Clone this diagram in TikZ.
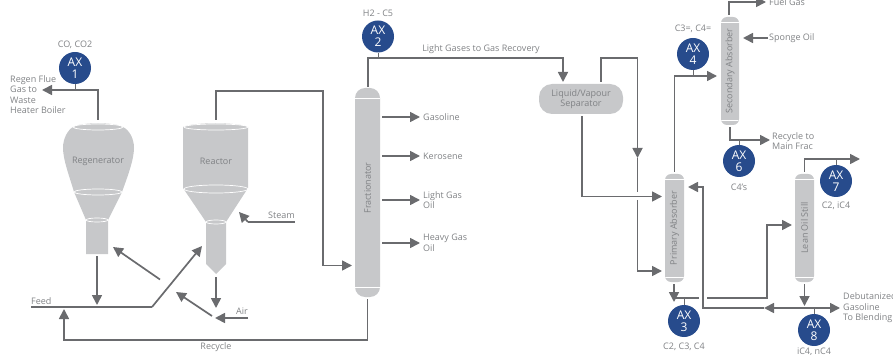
\documentclass[tikz,border=0pt]{standalone}
\usepackage{fontspec}
\setmainfont{Open Sans}
\usetikzlibrary{positioning,arrows.meta}
\definecolor{pipegray}{HTML}{6A6B6E}
\definecolor{vesselgray}{HTML}{C7C8CA}
\definecolor{textgray}{HTML}{808285}
\definecolor{axblue}{HTML}{274B8C}

\begin{document}
\begin{tikzpicture}[x=1pt, y=-1pt, font=\fontsize{9}{10.5}\selectfont, text=textgray,
		c/.style={circle, fill=axblue, text=white, minimum size=32pt, inner sep=0pt, align=center, font=\fontsize{12}{12}\selectfont},
		p/.style={draw=pipegray, line width=1.7pt},
		a/.style={p, -{Triangle[length=10pt, width=10pt]}},
		t/.style={draw=pipegray, line width=1pt},
		l/.style={anchor=west, inner sep=0pt, align=left},
		ring/.style={draw=white, line width=.7pt},
		v/.style={fill=vesselgray},
		col/.style={v, inner sep=0pt, path picture={
			\draw[ring] ([yshift=-#1]path picture bounding box.north west) -- ([yshift=-#1]path picture bounding box.north east);
			\draw[ring] ([yshift=#1]path picture bounding box.south west) -- ([yshift=#1]path picture bounding box.south east);}},
		n/.style={rotate=90, inner sep=0pt}]
		\useasboundingbox (0,0) rectangle (893,355);

		\fill[v] (73,127) .. controls (68,130) and (63,138) .. (63,148) .. controls (63,160) and (70,178) .. (74,192) -- (86,220) -- (86,254) -- (108,254) -- (108,220) -- (122,192) .. controls (127,178) and (134,160) .. (134,148) .. controls (134,138) and (129,130) .. (123,127) .. controls (115,122) and (81,122) .. (73,127) -- cycle;
		\draw[ring] (98,127) ellipse (25 and 3);
		\draw[ring] (98,192) ellipse (24 and 3);
		\draw[ring] (97,220) ellipse (11 and 2);
		\node (Regenerator) at (98,161) {Regenerator};

		\fill[v] (183,127) -- (183,188) -- (206,222) -- (206,264) -- (216,274) -- (226,264) -- (226,222) -- (248,188) -- (248,127) .. controls (238,122) and (193,122) .. (183,127) -- cycle;
		\draw[ring] (216,127) ellipse (32 and 3);
		\draw[ring] (216,189) ellipse (32 and 4);
		\draw[ring] (216,222) ellipse (10 and 2);
		\node (Reactor) at (216,161) {Reactor};

		\node[col=10pt, rounded corners=10pt, minimum width=25pt, minimum height=209pt] (Frac) at (367.5,192.5) {};
		\node[n] (Frac_label) at (367.5,188) {Fractionator};
		\node[col=5pt, rounded corners=6pt, minimum width=19pt, minimum height=108pt] (Primary) at (674.5,228) {};
		\node[n] (Primary_label) at (Primary) {Primary Absorber};
		\node[col=5pt, rounded corners=6pt, minimum width=18pt, minimum height=108pt] (Secondary) at (730,71) {};
		\node[n] (Secondary_label) at (Secondary) {Secondary Absorber};
		\node[col=5pt, rounded corners=6pt, minimum width=19pt, minimum height=108pt] (Lean) at (804.5,228) {};
		\node[n] (Lean_label) at (Lean) {Lean Oil Still};
		\node[v, rounded corners=13pt, minimum width=84pt, minimum height=30pt, inner sep=0pt, align=center] (Separator) at (581,99) {Liquid/Vapour\\Separator};

		\node[c] (AX_1) at (75,68) {AX\\1};
		\node[above=0pt of AX_1] (AX_1_label) {CO, CO2};
		\node[c] (AX_2) at (378,36.5) {AX\\2};
		\node[above=0pt of AX_2] (AX_2_label) {H2 - C5};
		\node[c] (AX_3) at (684,321) {AX\\3};
		\node[below=2pt of AX_3] (AX_3_label) {C2, C3, C4};
		\node[c] (AX_4) at (693,54) {AX\\4};
		\node[above=2pt of AX_4] (AX_4_label) {C3=, C4=};
		\node[c] (AX_6) at (739,161) {AX\\6};
		\node[below=3pt of AX_6] (AX_6_label) {C4's};
		\node[c] (AX_7) at (836,181) {AX\\7};
		\node[below=1pt of AX_7] (AX_7_label) {C2, iC4};
		\node[c] (AX_8) at (814,330) {AX\\8};
		\node[below=0pt of AX_8, inner ysep=1pt] (AX_8_label) {iC4, nC4};

		\node[l] (Flue) at (10,94.5) {Regen Flue\\Gas to\\Waste\\Heater Boiler};
		\node[l] (Feed) at (31,301) {Feed};
		\node[l] (Air) at (236,311) {Air};
		\node[l] (Steam) at (268,215) {Steam};
		\node (Recycle) at (216,347) {Recycle};
		\node (Recovery) at (481,49) {Light Gases to Gas Recovery};
		\node[l] (Gasoline) at (423,117) {Gasoline};
		\node[l] (Kerosene) at (423,156) {Kerosene};
		\node[l] (Light_oil) at (423,200) {Light Gas\\Oil};
		\node[l] (Heavy_oil) at (423,243) {Heavy Gas\\Oil};
		\node[l] (Fuel) at (769,2) {Fuel Gas};
		\node[l] (Sponge) at (769,38) {Sponge Oil};
		\node[l] (Main_frac) at (772,141) {Recycle to\\Main Frac};
		\node[l] (Blending) at (843,308) {Debutanized\\Gasoline\\To Blending};

		\draw[a] (98,120) |- (42,90) coordinate (Flue_end);
		\draw[t] (AX_1) -- (AX_1 |- Flue_end);
		\coordinate (Regen_out) at (97,256);
		\draw[a] (Regen_out) -- (97,305);
		\draw[a] (216,277) -- (216,308);
		\coordinate (Feed_bend) at (152,307);
		\draw[p] (Feed.west |- Feed_bend) -- (Feed_bend);
		\draw[a] (Feed_bend) -- (202,246);
		\draw[a] (160,279.5) -- (113,247);
		\draw[a] (212,316) -- (176,292);
		\coordinate (Air_tip) at (215,318);
		\draw[a] (Air.east |- Air_tip) -- (Air_tip);
		\coordinate (Steam_bend) at (248,222);
		\draw[p] (Steam.east |- Steam_bend) -- (Steam_bend);
		\draw[a] (Steam_bend) -- (239,212);
		\draw[a] (216,120) |- (323,91) |- (352,265.5);
		\draw[a] (367.5,299) |- (64,340) -- (64,309);

		\draw[a] (Frac.east |- Gasoline) ++(2,0) -- ([xshift=-3pt]Gasoline.west);
		\draw[a] (Frac.east |- Kerosene) ++(2,0) -- ([xshift=-3pt]Kerosene.west);
		\draw[a] (382,200) -- (420,200);
		\draw[a] (382,243) -- (420,243);

		\draw[a] (368,87) |- (563,58) coordinate (Gas_bend) -- (563,82);
		\draw[t] (AX_2) -- (AX_2 |- Gas_bend);

		\coordinate (Cross_top) at (637.5,158);
		\draw[a] (601,82) |- (637.5,58) -- (Cross_top);
		\draw[p] (Cross_top) -- (637.5,192);
		\draw[a] (582,116) |- (662,196.5);
		\draw[a] (637.5,200) |- (662,271);

		\draw[a] (674.5,172) |- (717,76) coordinate (Secondary_in);
		\draw[t] (AX_4) -- (AX_4 |- Secondary_in);
		\draw[a] (729,15) |- ([xshift=-3pt]Fuel.west);
		\draw[a] ([xshift=-1pt]Sponge.west) -- (743,38);
		\draw[a] (730,127) |- (770,140) coordinate (Main_end);
		\draw[t] (AX_6) -- (AX_6 |- Main_end);

		\draw[a] (674,284) -- (674,302);
		\draw[p] (674,298) coordinate (Primary_out) -- (699,298);
		\draw[t] (AX_3) -- (AX_3 |- Primary_out);
		\draw[a] (707,298) -| (767,225) -- (792,225);

		\draw[a] (804.5,172) |- (860,159) coordinate (Lean_top);
		\draw[t] (AX_7) -- (AX_7 |- Lean_top);
		\draw[a] (804.5,284) -- (804.5,306);
		\coordinate (Junction) at (804.5,308);
		\draw[t] (AX_8) -- (AX_8 |- Junction);
		\draw[a] (Junction) -- (840,308);
		\draw[a] (Junction) -- (764,308) coordinate (Return_tip);
		\draw[a] (Return_tip) -| (703,187) -- (688,187);
	\end{tikzpicture}
\end{document}
